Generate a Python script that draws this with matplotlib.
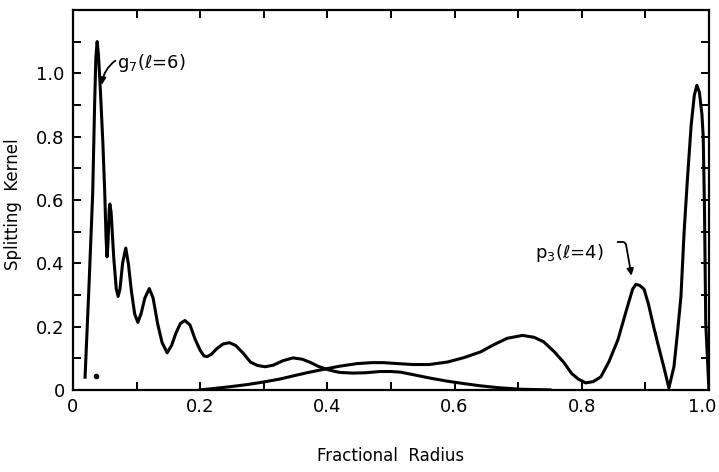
import numpy as np
import matplotlib.pyplot as plt
from matplotlib.transforms import ScaledTranslation

# splitting kernel of the g7 (l=6) mode
g7_r = [0.019, 0.025, 0.031, 0.034, 0.036, 0.038, 0.040, 0.043, 0.047, 0.050,
        0.052, 0.0535, 0.055, 0.057, 0.058, 0.060, 0.064, 0.068, 0.071, 0.074,
        0.078, 0.083, 0.087, 0.092, 0.097, 0.102, 0.107, 0.113, 0.120, 0.126,
        0.133, 0.140, 0.148, 0.155, 0.162, 0.169, 0.176, 0.184, 0.192, 0.200,
        0.206, 0.211, 0.218, 0.226, 0.236, 0.246, 0.256, 0.268, 0.279, 0.290,
        0.302, 0.315, 0.330, 0.346, 0.360, 0.373, 0.385, 0.397, 0.410, 0.420,
        0.440, 0.460, 0.483, 0.500, 0.515, 0.540, 0.562, 0.590, 0.614, 0.640,
        0.668, 0.704, 0.750]
g7_k = [0.04, 0.32, 0.62, 0.90, 1.05, 1.10, 1.06, 0.95, 0.78, 0.62,
        0.48, 0.42, 0.46, 0.57, 0.587, 0.56, 0.42, 0.32, 0.295, 0.32,
        0.40, 0.448, 0.40, 0.31, 0.24, 0.213, 0.24, 0.29, 0.32, 0.29,
        0.21, 0.15, 0.117, 0.14, 0.18, 0.21, 0.219, 0.205, 0.16, 0.125,
        0.107, 0.105, 0.113, 0.13, 0.145, 0.149, 0.14, 0.115, 0.088, 0.077,
        0.073, 0.078, 0.092, 0.101, 0.097, 0.087, 0.075, 0.066, 0.059, 0.055,
        0.053, 0.054, 0.058, 0.058, 0.056, 0.046, 0.037, 0.027, 0.020, 0.013,
        0.007, 0.002, 0.0]

# splitting kernel of the p3 (l=4) mode
p3_r = [0.20, 0.22, 0.247, 0.275, 0.30, 0.325, 0.346, 0.370, 0.397, 0.420,
        0.447, 0.470, 0.488, 0.510, 0.535, 0.560, 0.589, 0.615, 0.641, 0.662,
        0.683, 0.707, 0.725, 0.740, 0.757, 0.772, 0.784, 0.794, 0.806, 0.818,
        0.830, 0.843, 0.857, 0.872, 0.880, 0.885, 0.891, 0.898, 0.905, 0.913,
        0.921, 0.929, 0.937, 0.945, 0.950, 0.956, 0.961, 0.966, 0.972, 0.977,
        0.981, 0.985, 0.989, 0.991, 0.993, 0.995, 1.0]
p3_k = [0.0, 0.004, 0.010, 0.017, 0.025, 0.034, 0.044, 0.055, 0.066, 0.075,
        0.083, 0.086, 0.086, 0.083, 0.080, 0.080, 0.088, 0.102, 0.12, 0.143,
        0.163, 0.172, 0.166, 0.152, 0.12, 0.086, 0.052, 0.035, 0.022, 0.026,
        0.041, 0.09, 0.159, 0.264, 0.318, 0.333, 0.330, 0.318, 0.27, 0.20,
        0.135, 0.073, 0.006, 0.073, 0.17, 0.295, 0.50, 0.66, 0.835, 0.93,
        0.962, 0.94, 0.87, 0.80, 0.57, 0.21, 0.0]

x_ticks = [0, 0.1, 0.2, 0.3, 0.4, 0.5, 0.6, 0.7, 0.8, 0.9, 1.0]
x_labels = ['0', '', '0.2', '', '0.4', '', '0.6', '', '0.8', '', '1.0']
y_ticks = [0, 0.1, 0.2, 0.3, 0.4, 0.5, 0.6, 0.7, 0.8, 0.9, 1.0, 1.1]
y_labels = ['0', '', '0.2', '', '0.4', '', '0.6', '', '0.8', '', '1.0', '']

fig = plt.figure(figsize=(7.19, 4.72), dpi=100)
ax = fig.add_subplot(1, 1, 1)
fig.subplots_adjust(left=0.1015, right=0.986, top=0.979, bottom=0.174)

ax.plot(g7_r, g7_k, color='black', lw=2.2, solid_joinstyle='round')
ax.plot(p3_r, p3_k, color='black', lw=2.2, solid_joinstyle='round')
ax.plot([0.036], [0.044], 'o', color='black', ms=3)  # stray dot in the original

ax.set_xlim(0, 1.0)
ax.set_ylim(0, 1.2)
ax.set_xticks(x_ticks)
ax.set_xticklabels(x_labels)
ax.set_yticks(y_ticks)
ax.set_yticklabels(y_labels)
ax.tick_params(direction='in', length=6, width=1.4, top=True, right=True,
               labelsize=13, pad=6)
for s in ax.spines.values():
    s.set_linewidth(1.6)

# pull the "1.0" label a bit left so it stays inside the figure
lab = ax.get_xticklabels()[-1]
lab.set_transform(lab.get_transform() + ScaledTranslation(-5 / 72, 0, fig.dpi_scale_trans))

ax.set_xlabel('Fractional  Radius', fontsize=12)
ax.xaxis.set_label_coords(0.5, -0.15)
ax.set_ylabel('Splitting  Kernel', fontsize=12)
ax.yaxis.set_label_coords(-0.08, 0.49)

# mode labels with leader arrows
ax.text(0.069, 1.015, r'g$_7$($\ell$=6)', fontsize=13)
ax.annotate('', xy=(0.045, 0.955), xytext=(0.070, 1.045),
            arrowprops=dict(arrowstyle='-|>', color='black', lw=1.3,
                            connectionstyle='arc3,rad=0.25', mutation_scale=10))
ax.text(0.727, 0.415, r'p$_3$($\ell$=4)', fontsize=13)
ax.annotate('', xy=(0.879, 0.352), xytext=(0.852, 0.467),
            arrowprops=dict(arrowstyle='-|>', color='black', lw=1.3,
                            connectionstyle='angle,angleA=0,angleB=100,rad=3',
                            mutation_scale=10))

plt.savefig('out.png', dpi=100)
